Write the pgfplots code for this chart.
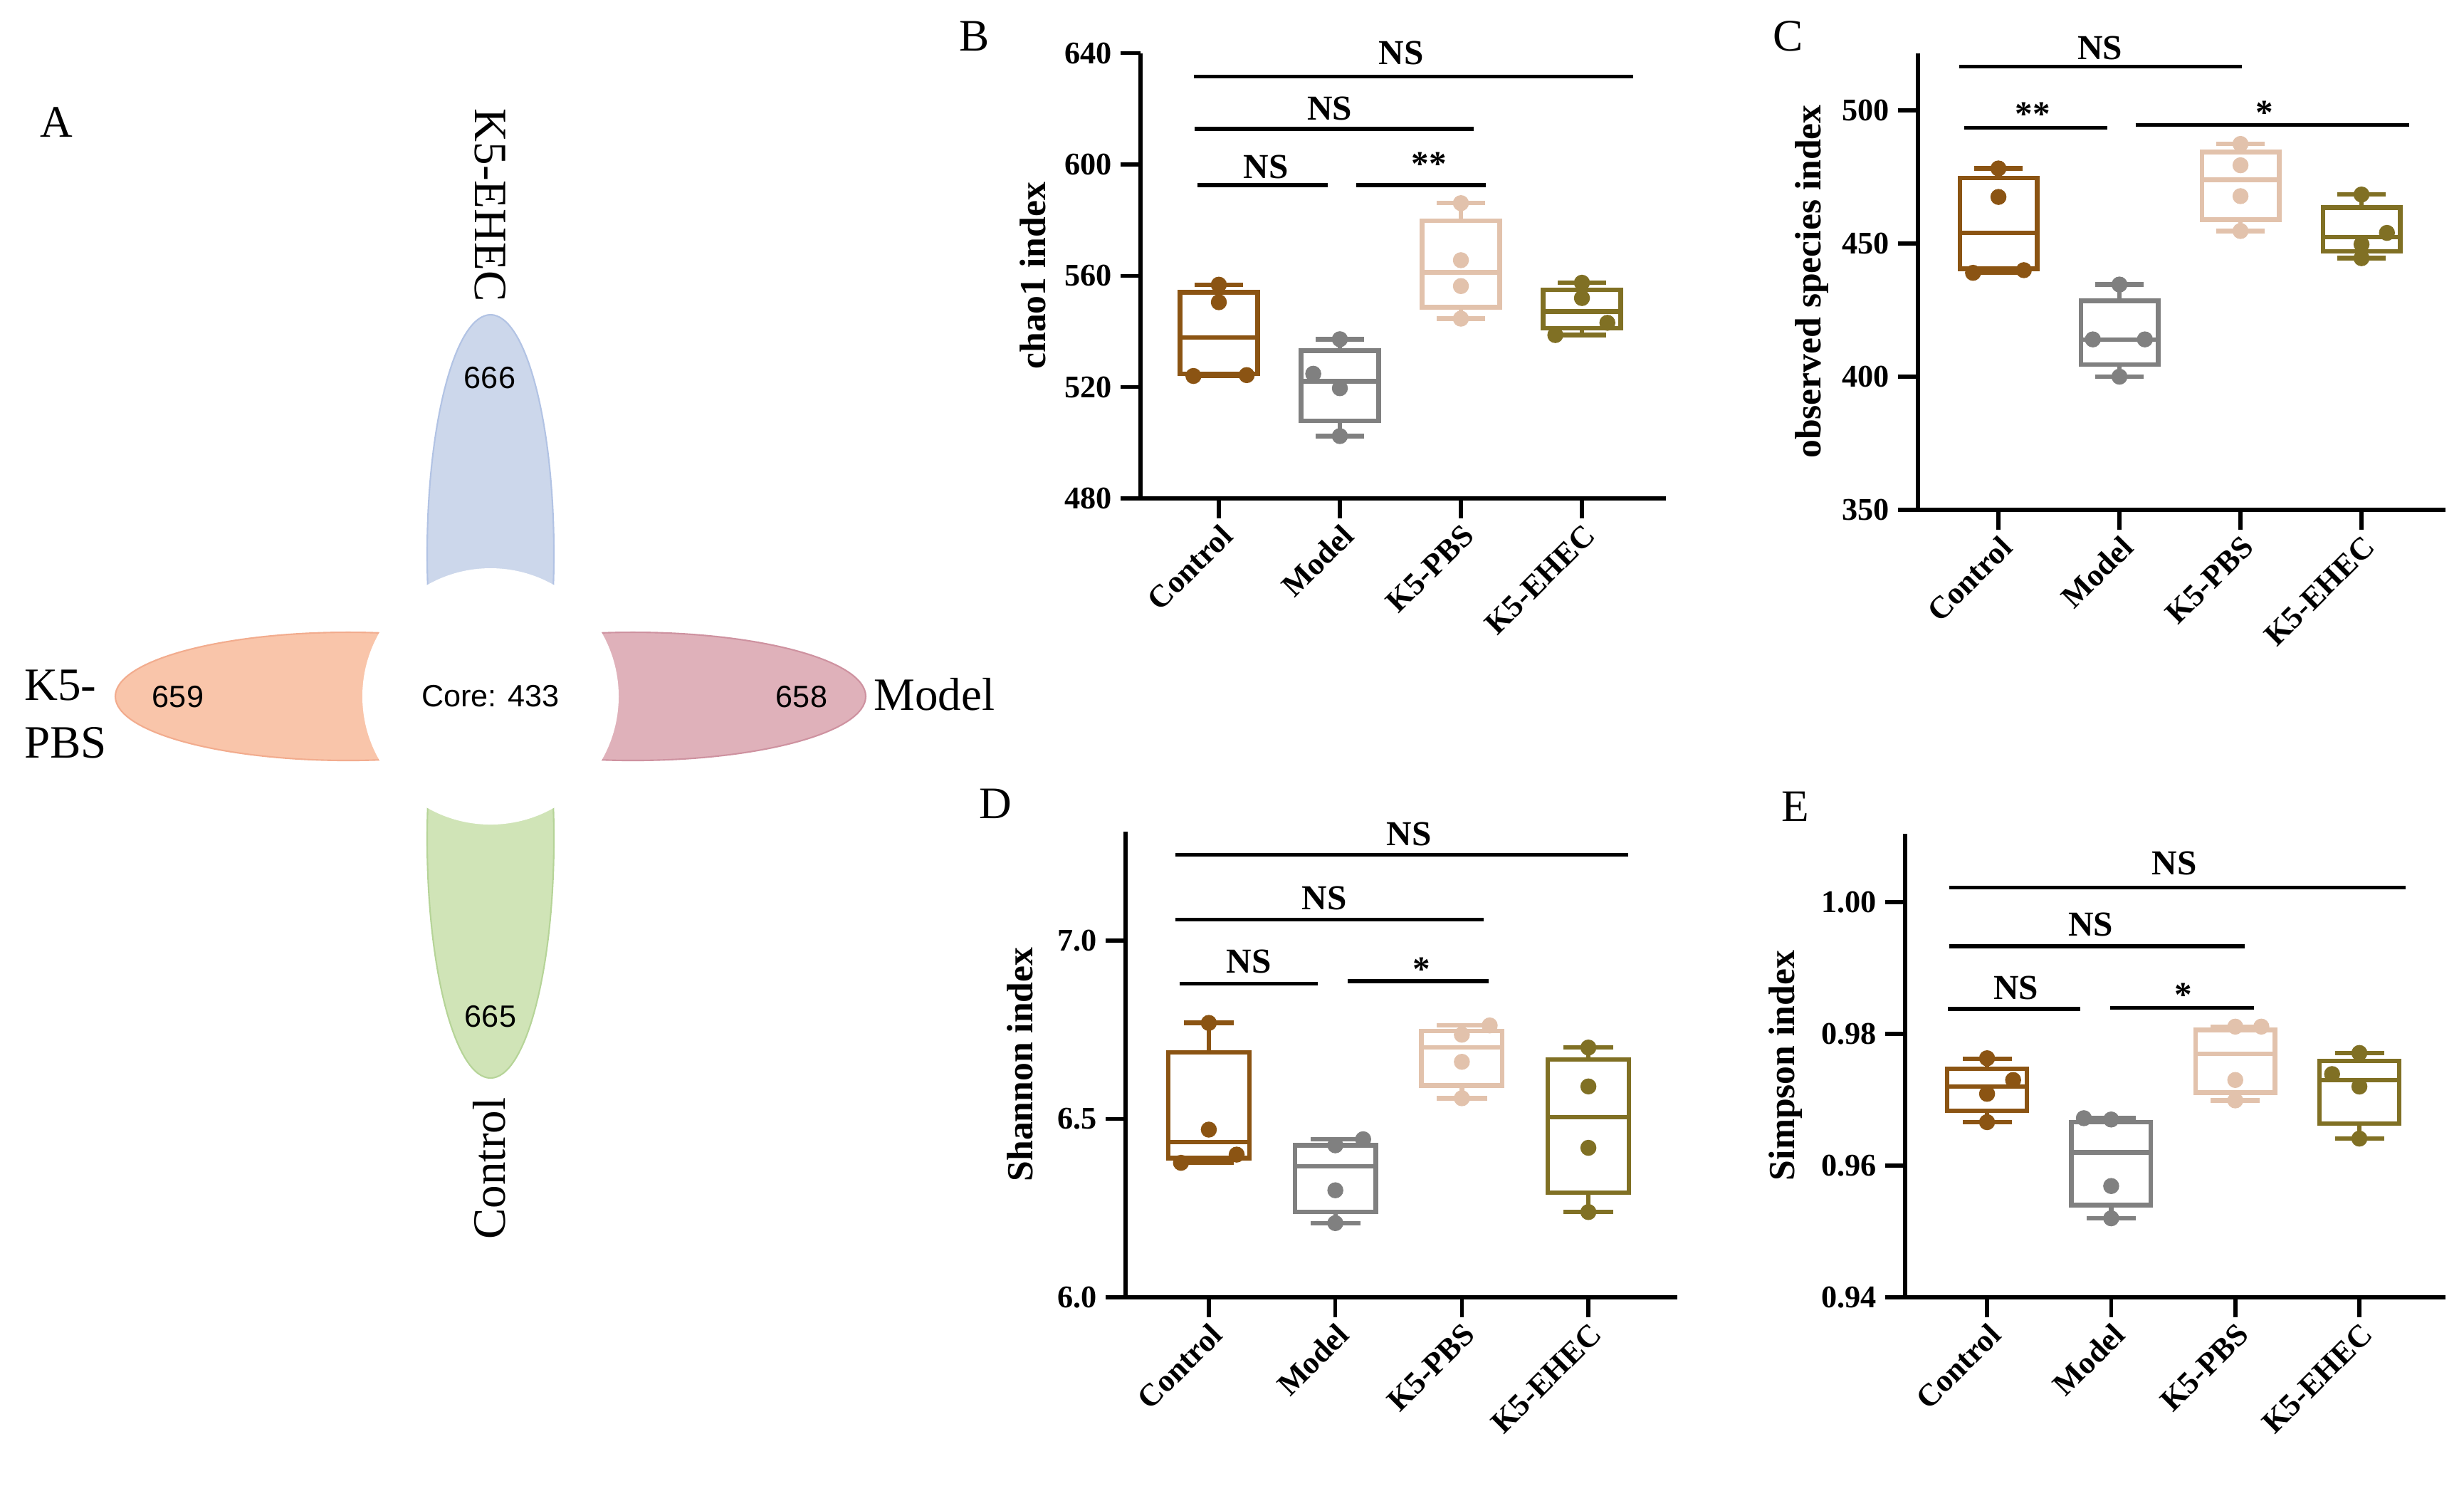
\documentclass[border=0pt]{standalone}
\usepackage{fontspec}
\setmainfont{Liberation Serif}
\newfontfamily\vennfont{Liberation Sans}
\usepackage{pgfplots}
\pgfplotsset{compat=1.18}

\definecolor{cCtrl}{RGB}{139,84,19}
\definecolor{cModel}{RGB}{128,128,128}
\definecolor{cPBS}{RGB}{226,194,172}
\definecolor{cEHEC}{RGB}{128,112,36}
\definecolor{pBlue}{RGB}{204,215,235}
\definecolor{pBlueD}{RGB}{178,195,228}
\definecolor{pOrange}{RGB}{249,197,170}
\definecolor{pOrangeD}{RGB}{242,172,142}
\definecolor{pPink}{RGB}{223,177,186}
\definecolor{pPinkD}{RGB}{206,146,160}
\definecolor{pGreen}{RGB}{208,228,183}
\definecolor{pGreenD}{RGB}{182,212,152}

\pgfplotsset{
  panel/.style={
    scale only axis,
    anchor=south west,
    axis x line=bottom, axis y line=left,
    axis line style={-, line width=1.6pt},
    tick style={line width=1.6pt, black},
    tick align=outside,
    major tick length=0.28cm,
    xtick={0,1,2,3},
    xticklabels={Control,Model,K5-PBS,K5-EHEC},
    ticklabel style={font=\fontsize{12.6}{14}\selectfont\bfseries},
    xticklabel style={rotate=45, anchor=north east, inner sep=1pt},
    /pgf/number format/assume math mode=true,
    label style={font=\fontsize{14.7}{16}\selectfont\bfseries},
    unbounded coords=jump,
    clip=false,
  },
  bx/.style={line width=1.8pt, solid, mark=none, line cap=rect},
  dots/.style={only marks, mark=*, mark size=3pt},
  sig/.style={black, line width=1.5pt, mark=none},
}
\tikzset{
  stxt/.style={anchor=base, font=\fontsize{14}{16}\selectfont\bfseries},
  letter/.style={font=\fontsize{18}{20}\selectfont},
  vnum/.style={font=\vennfont\fontsize{12.3}{14}\selectfont},
  vlab/.style={font=\fontsize{18.5}{23.3}\selectfont},
  petal/.style={line width=0.6pt},
}

\begin{document}
\begin{tikzpicture}
\path[use as bounding box] (0,0) rectangle (34.61cm,-20.86cm);

% frame in pixel coordinates (1 px = 0.01 cm): panel A and panel letters
\begin{axis}[at={(0cm,0cm)}, anchor=north west, scale only axis,
  width=34.61cm, height=20.86cm, xmin=0, xmax=3461, ymin=0, ymax=2086,
  y dir=reverse, hide axis, clip=false]
% petals: ellipses centred 200 px from the flower centre (689,978)
\fill[petal, fill=pBlue, draw=pBlueD] (axis cs:689,778) ellipse [x radius=0.89cm, y radius=3.36cm];
\fill[petal, fill=pGreen, draw=pGreenD] (axis cs:689,1178) ellipse [x radius=0.89cm, y radius=3.36cm];
\fill[petal, fill=pOrange, draw=pOrangeD] (axis cs:489,978) ellipse [x radius=3.27cm, y radius=0.90cm];
\fill[petal, fill=pPink, draw=pPinkD] (axis cs:889,978) ellipse [x radius=3.27cm, y radius=0.90cm];
\fill[white] (axis cs:689,978) circle[radius=1.8cm];
% counts
\node[vnum] at (axis cs:688,531) {666};
\node[vnum] at (axis cs:689,1428) {665};
\node[vnum] at (axis cs:250,979) {659};
\node[vnum] at (axis cs:1126,979) {658};
\node[vnum] at (axis cs:689,978) {Core: 433};
% group names
\node[vlab, rotate=-90] at (axis cs:689,288) {K5-EHEC};
\node[vlab, rotate=90] at (axis cs:687,1641) {Control};
\node[vlab, anchor=west] at (axis cs:1215,975) {Model};
\node[vlab, anchor=west, align=left] at (axis cs:22,1003) {K5-\\PBS};
% panel letters
\node[letter] at (axis cs:79,172) {A};
\node[letter] at (axis cs:1369,51) {B};
\node[letter] at (axis cs:2512,51) {C};
\node[letter] at (axis cs:1398,1129) {D};
\node[letter] at (axis cs:2522,1133) {E};
\end{axis}

% B: chao1 (box: lower whisker, Q1, median, Q3, upper whisker)
\begin{axis}[panel, at={(16.02cm,-7.00cm)}, width=7.38cm, height=6.254cm,
  xmin=-0.647, xmax=3.694, ymin=480, ymax=640, ytick={480,520,560,600,640},
  ylabel={chao1 index},
  ylabel style={at={(axis description cs:-0.205,0.5)}, anchor=center}]
\addplot[bx, cCtrl] coordinates {(-0.18,524.0) (0.18,524.0) (nan,nan) (0,524.0) (0,524.8) (nan,nan) (0,554.1) (0,556.8) (nan,nan) (-0.18,556.8) (0.18,556.8) (nan,nan) (-0.32,537.8) (0.32,537.8) (nan,nan) (-0.32,524.8) (0.32,524.8) (0.32,554.1) (-0.32,554.1) (-0.32,524.8)};
\addplot[bx, cModel] coordinates {(0.82,502.4) (1.18,502.4) (nan,nan) (1,502.4) (1,507.9) (nan,nan) (1,533.1) (1,537.2) (nan,nan) (0.82,537.2) (1.18,537.2) (nan,nan) (0.68,522.1) (1.32,522.1) (nan,nan) (0.68,507.9) (1.32,507.9) (1.32,533.1) (0.68,533.1) (0.68,507.9)};
\addplot[bx, cPBS] coordinates {(1.82,544.6) (2.18,544.6) (nan,nan) (2,544.6) (2,548.7) (nan,nan) (2,579.8) (2,586.1) (nan,nan) (1.82,586.1) (2.18,586.1) (nan,nan) (1.68,561.2) (2.32,561.2) (nan,nan) (1.68,548.7) (2.32,548.7) (2.32,579.8) (1.68,579.8) (1.68,548.7)};
\addplot[bx, cEHEC] coordinates {(2.82,538.7) (3.18,538.7) (nan,nan) (3,538.7) (3,541.2) (nan,nan) (3,554.9) (3,557.5) (nan,nan) (2.82,557.5) (3.18,557.5) (nan,nan) (2.68,547.2) (3.32,547.2) (nan,nan) (2.68,541.2) (3.32,541.2) (3.32,554.9) (2.68,554.9) (2.68,541.2)};
\addplot[dots, cCtrl] coordinates {(0,556.8) (0,550.5) (-0.21,524.0) (0.23,524.3)};
\addplot[dots, cModel] coordinates {(1,537.2) (0.78,524.8) (1,519.6) (1,502.4)};
\addplot[dots, cPBS] coordinates {(2,586.1) (2,565.6) (2,556.3) (2,544.6)};
\addplot[dots, cEHEC] coordinates {(3,557.5) (3,552.0) (3.21,543.1) (2.78,538.7)};
\addplot[sig] coordinates {(-0.207,631.6) (3.425,631.6)};
\addplot[sig] coordinates {(-0.198,612.8) (2.103,612.8)};
\addplot[sig] coordinates {(-0.178,592.6) (0.897,592.6)};
\addplot[sig] coordinates {(1.136,592.6) (2.207,592.6)};
\node[stxt] at (axis cs:1.508,635.9) {NS};
\node[stxt] at (axis cs:0.917,616.1) {NS};
\node[stxt] at (axis cs:0.388,595.0) {NS};
\node[stxt] at (axis cs:1.736,596.0) {**};
\end{axis}

% C: observed species
\begin{axis}[panel, at={(26.94cm,-7.16cm)}, width=7.41cm, height=6.41cm,
  xmin=-0.665, xmax=3.694, ymin=350, ymax=521.4, ytick={350,400,450,500},
  ylabel={observed species index},
  ylabel style={at={(axis description cs:-0.201,0.5)}, anchor=center}]
\addplot[bx, cCtrl] coordinates {(-0.18,439.0) (0.18,439.0) (nan,nan) (0,439.0) (0,440.5) (nan,nan) (0,474.7) (0,478.2) (nan,nan) (-0.18,478.2) (0.18,478.2) (nan,nan) (-0.32,454.0) (0.32,454.0) (nan,nan) (-0.32,440.5) (0.32,440.5) (0.32,474.7) (-0.32,474.7) (-0.32,440.5)};
\addplot[bx, cModel] coordinates {(0.82,400.0) (1.18,400.0) (nan,nan) (1,400.0) (1,404.6) (nan,nan) (1,428.5) (1,434.6) (nan,nan) (0.82,434.6) (1.18,434.6) (nan,nan) (0.68,413.9) (1.32,413.9) (nan,nan) (0.68,404.6) (1.32,404.6) (1.32,428.5) (0.68,428.5) (0.68,404.6)};
\addplot[bx, cPBS] coordinates {(1.82,454.7) (2.18,454.7) (nan,nan) (2,454.7) (2,459.0) (nan,nan) (2,484.4) (2,487.4) (nan,nan) (1.82,487.4) (2.18,487.4) (nan,nan) (1.68,473.9) (2.32,473.9) (nan,nan) (1.68,459.0) (2.32,459.0) (2.32,484.4) (1.68,484.4) (1.68,459.0)};
\addplot[bx, cEHEC] coordinates {(2.82,444.5) (3.18,444.5) (nan,nan) (3,444.5) (3,447.1) (nan,nan) (3,463.5) (3,468.4) (nan,nan) (2.82,468.4) (3.18,468.4) (nan,nan) (2.68,452.5) (3.32,452.5) (nan,nan) (2.68,447.1) (3.32,447.1) (3.32,463.5) (2.68,463.5) (2.68,447.1)};
\addplot[dots, cCtrl] coordinates {(0,478.2) (0,467.5) (-0.21,439.0) (0.21,440.0)};
\addplot[dots, cModel] coordinates {(1,434.6) (0.78,414.0) (1.21,414.0) (1,400.0)};
\addplot[dots, cPBS] coordinates {(2,487.4) (2,479.4) (2,467.8) (2,454.7)};
\addplot[dots, cEHEC] coordinates {(3,468.4) (3.21,454.0) (3,449.7) (3,444.5)};
\addplot[sig] coordinates {(-0.322,516.4) (2.01,516.4)};
\addplot[sig] coordinates {(-0.282,493.4) (0.898,493.4)};
\addplot[sig] coordinates {(1.132,494.6) (3.393,494.6)};
\node[stxt] at (axis cs:0.838,519.1) {NS};
\node[stxt] at (axis cs:0.282,494.3) {**};
\node[stxt] at (axis cs:2.201,494.9) {*};
\end{axis}

% D: Shannon
\begin{axis}[panel, at={(15.81cm,-18.22cm)}, width=7.75cm, height=6.54cm,
  xmin=-0.658, xmax=3.703, ymin=6, ymax=7.305, ytick={6.0,6.5,7.0},
  yticklabel style={/pgf/number format/.cd, fixed, fixed zerofill, precision=1},
  ylabel={Shannon index},
  ylabel style={at={(axis description cs:-0.191,0.5)}, anchor=center}]
\addplot[bx, cCtrl] coordinates {(-0.18,6.377) (0.18,6.377) (nan,nan) (0,6.377) (0,6.390) (nan,nan) (0,6.686) (0,6.769) (nan,nan) (-0.18,6.769) (0.18,6.769) (nan,nan) (-0.32,6.435) (0.32,6.435) (nan,nan) (-0.32,6.390) (0.32,6.390) (0.32,6.686) (-0.32,6.686) (-0.32,6.390)};
\addplot[bx, cModel] coordinates {(0.82,6.208) (1.18,6.208) (nan,nan) (1,6.208) (1,6.239) (nan,nan) (1,6.426) (1,6.443) (nan,nan) (0.82,6.443) (1.18,6.443) (nan,nan) (0.68,6.367) (1.32,6.367) (nan,nan) (0.68,6.239) (1.32,6.239) (1.32,6.426) (0.68,6.426) (0.68,6.239)};
\addplot[bx, cPBS] coordinates {(1.82,6.558) (2.18,6.558) (nan,nan) (2,6.558) (2,6.594) (nan,nan) (2,6.747) (2,6.762) (nan,nan) (1.82,6.762) (2.18,6.762) (nan,nan) (1.68,6.700) (2.32,6.700) (nan,nan) (1.68,6.594) (2.32,6.594) (2.32,6.747) (1.68,6.747) (1.68,6.594)};
\addplot[bx, cEHEC] coordinates {(2.82,6.239) (3.18,6.239) (nan,nan) (3,6.239) (3,6.294) (nan,nan) (3,6.666) (3,6.700) (nan,nan) (2.82,6.700) (3.18,6.700) (nan,nan) (2.68,6.505) (3.32,6.505) (nan,nan) (2.68,6.294) (3.32,6.294) (3.32,6.666) (2.68,6.666) (2.68,6.294)};
\addplot[dots, cCtrl] coordinates {(0,6.769) (0,6.470) (0.22,6.400) (-0.22,6.377)};
\addplot[dots, cModel] coordinates {(1.22,6.443) (1,6.426) (1,6.300) (1,6.208)};
\addplot[dots, cPBS] coordinates {(2.22,6.762) (2,6.736) (2,6.660) (2,6.558)};
\addplot[dots, cEHEC] coordinates {(3,6.700) (3,6.591) (3,6.419) (3,6.239)};
\addplot[sig] coordinates {(-0.264,7.240) (3.316,7.240)};
\addplot[sig] coordinates {(-0.264,7.059) (2.171,7.059)};
\addplot[sig] coordinates {(-0.233,6.879) (0.861,6.879)};
\addplot[sig] coordinates {(1.10,6.886) (2.21,6.886)};
\node[stxt] at (axis cs:1.583,7.266) {NS};
\node[stxt] at (axis cs:0.912,7.086) {NS};
\node[stxt] at (axis cs:0.316,6.908) {NS};
\node[stxt] at (axis cs:1.682,6.887) {*};
\end{axis}

% E: Simpson
\begin{axis}[panel, at={(26.76cm,-18.22cm)}, width=7.59cm, height=6.51cm,
  xmin=-0.66, xmax=3.694, ymin=0.94, ymax=1.01038, ytick={0.94,0.96,0.98,1.00},
  yticklabel style={/pgf/number format/.cd, fixed, fixed zerofill, precision=2},
  ylabel={Simpson index},
  ylabel style={at={(axis description cs:-0.221,0.5)}, anchor=center}]
\addplot[bx, cCtrl] coordinates {(-0.18,0.9666) (0.18,0.9666) (nan,nan) (0,0.9666) (0,0.9683) (nan,nan) (0,0.9747) (0,0.9762) (nan,nan) (-0.18,0.9762) (0.18,0.9762) (nan,nan) (-0.32,0.9720) (0.32,0.9720) (nan,nan) (-0.32,0.9683) (0.32,0.9683) (0.32,0.9747) (-0.32,0.9747) (-0.32,0.9683)};
\addplot[bx, cModel] coordinates {(0.82,0.9520) (1.18,0.9520) (nan,nan) (1,0.9520) (1,0.9540) (nan,nan) (1,0.9666) (1,0.9672) (nan,nan) (0.82,0.9672) (1.18,0.9672) (nan,nan) (0.68,0.9620) (1.32,0.9620) (nan,nan) (0.68,0.9540) (1.32,0.9540) (1.32,0.9666) (0.68,0.9666) (0.68,0.9540)};
\addplot[bx, cPBS] coordinates {(1.82,0.9699) (2.18,0.9699) (nan,nan) (2,0.9699) (2,0.9711) (nan,nan) (2,0.9806) (2,0.9811) (nan,nan) (1.82,0.9811) (2.18,0.9811) (nan,nan) (1.68,0.9770) (2.32,0.9770) (nan,nan) (1.68,0.9711) (2.32,0.9711) (2.32,0.9806) (1.68,0.9806) (1.68,0.9711)};
\addplot[bx, cEHEC] coordinates {(2.82,0.9641) (3.18,0.9641) (nan,nan) (3,0.9641) (3,0.9664) (nan,nan) (3,0.9759) (3,0.9771) (nan,nan) (2.82,0.9771) (3.18,0.9771) (nan,nan) (2.68,0.9730) (3.32,0.9730) (nan,nan) (2.68,0.9664) (3.32,0.9664) (3.32,0.9759) (2.68,0.9759) (2.68,0.9664)};
\addplot[dots, cCtrl] coordinates {(0,0.9763) (0.21,0.9730) (0,0.9709) (0,0.9666)};
\addplot[dots, cModel] coordinates {(0.78,0.9672) (1,0.9670) (1,0.9569) (1,0.9520)};
\addplot[dots, cPBS] coordinates {(2,0.9811) (2.21,0.9811) (2,0.9730) (2,0.9699)};
\addplot[dots, cEHEC] coordinates {(3,0.9771) (2.78,0.9739) (3,0.9720) (3,0.9641)};
\addplot[sig] coordinates {(-0.303,1.00221) (3.372,1.00221)};
\addplot[sig] coordinates {(-0.303,0.99329) (2.076,0.99329)};
\addplot[sig] coordinates {(-0.314,0.98379) (0.753,0.98379)};
\addplot[sig] coordinates {(0.990,0.98393) (2.150,0.98393)};
\node[stxt] at (axis cs:1.51,1.00414) {NS};
\node[stxt] at (axis cs:0.834,0.99486) {NS};
\node[stxt] at (axis cs:0.233,0.98521) {NS};
\node[stxt] at (axis cs:1.579,0.98421) {*};
\end{axis}
\end{tikzpicture}
\end{document}
